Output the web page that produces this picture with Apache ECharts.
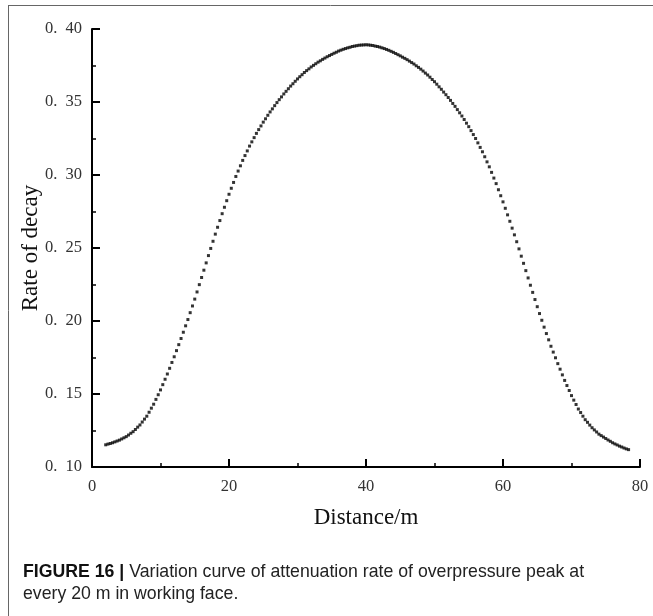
<!DOCTYPE html>
<html>
<head>
<meta charset="utf-8">
<script src="https://cdn.jsdelivr.net/npm/echarts@6/dist/echarts.min.js"></script>
<style>
html,body{margin:0;padding:0;background:#fff;}
#chart{width:653px;height:616px;}
</style>
</head>
<body>
<div id="chart"></div>
<script>
// Distance (m), sampled every 1/3 m
const distance = [
  2, 2.333, 2.667, 3, 3.333, 3.667, 4, 4.333, 4.667, 5, 5.333, 5.667,
  6, 6.333, 6.667, 7, 7.333, 7.667, 8, 8.333, 8.667, 9, 9.333, 9.667,
  10, 10.333, 10.667, 11, 11.333, 11.667, 12, 12.333, 12.667, 13, 13.333, 13.667,
  14, 14.333, 14.667, 15, 15.333, 15.667, 16, 16.333, 16.667, 17, 17.333, 17.667,
  18, 18.333, 18.667, 19, 19.333, 19.667, 20, 20.333, 20.667, 21, 21.333, 21.667,
  22, 22.333, 22.667, 23, 23.333, 23.667, 24, 24.333, 24.667, 25, 25.333, 25.667,
  26, 26.333, 26.667, 27, 27.333, 27.667, 28, 28.333, 28.667, 29, 29.333, 29.667,
  30, 30.333, 30.667, 31, 31.333, 31.667, 32, 32.333, 32.667, 33, 33.333, 33.667,
  34, 34.333, 34.667, 35, 35.333, 35.667, 36, 36.333, 36.667, 37, 37.333, 37.667,
  38, 38.333, 38.667, 39, 39.333, 39.667, 40, 40.333, 40.667, 41, 41.333, 41.667,
  42, 42.333, 42.667, 43, 43.333, 43.667, 44, 44.333, 44.667, 45, 45.333, 45.667,
  46, 46.333, 46.667, 47, 47.333, 47.667, 48, 48.333, 48.667, 49, 49.333, 49.667,
  50, 50.333, 50.667, 51, 51.333, 51.667, 52, 52.333, 52.667, 53, 53.333, 53.667,
  54, 54.333, 54.667, 55, 55.333, 55.667, 56, 56.333, 56.667, 57, 57.333, 57.667,
  58, 58.333, 58.667, 59, 59.333, 59.667, 60, 60.333, 60.667, 61, 61.333, 61.667,
  62, 62.333, 62.667, 63, 63.333, 63.667, 64, 64.333, 64.667, 65, 65.333, 65.667,
  66, 66.333, 66.667, 67, 67.333, 67.667, 68, 68.333, 68.667, 69, 69.333, 69.667,
  70, 70.333, 70.667, 71, 71.333, 71.667, 72, 72.333, 72.667, 73, 73.333, 73.667,
  74, 74.333, 74.667, 75, 75.333, 75.667, 76, 76.333, 76.667, 77, 77.333, 77.667,
  78, 78.333
];

// Rate of decay
const rateOfDecay = [
  0.1152, 0.1157, 0.1161, 0.1166, 0.1172, 0.1178, 0.1184, 0.1192, 0.1200, 0.1208, 0.1219, 0.1231,
  0.1242, 0.1257, 0.1273, 0.1288, 0.1308, 0.1328, 0.1348, 0.1375, 0.1403, 0.1430, 0.1463, 0.1495,
  0.1528, 0.1564, 0.1601, 0.1637, 0.1676, 0.1716, 0.1755, 0.1797, 0.1838, 0.1880, 0.1923, 0.1967,
  0.2010, 0.2057, 0.2103, 0.2150, 0.2199, 0.2249, 0.2298, 0.2348, 0.2398, 0.2448, 0.2497, 0.2546,
  0.2595, 0.2642, 0.2688, 0.2735, 0.2779, 0.2824, 0.2868, 0.2909, 0.2949, 0.2990, 0.3027, 0.3063,
  0.3100, 0.3133, 0.3165, 0.3198, 0.3227, 0.3256, 0.3285, 0.3311, 0.3336, 0.3362, 0.3385, 0.3409,
  0.3432, 0.3453, 0.3475, 0.3496, 0.3516, 0.3535, 0.3555, 0.3573, 0.3591, 0.3609, 0.3625, 0.3642,
  0.3658, 0.3673, 0.3687, 0.3702, 0.3715, 0.3727, 0.3740, 0.3751, 0.3762, 0.3773, 0.3782, 0.3792,
  0.3801, 0.3810, 0.3818, 0.3826, 0.3834, 0.3841, 0.3849, 0.3855, 0.3861, 0.3866, 0.3871, 0.3875,
  0.3880, 0.3883, 0.3886, 0.3889, 0.3890, 0.3891, 0.3892, 0.3891, 0.3889, 0.3887, 0.3883, 0.3880,
  0.3876, 0.3871, 0.3866, 0.3860, 0.3854, 0.3847, 0.3840, 0.3832, 0.3824, 0.3816, 0.3807, 0.3799,
  0.3790, 0.3780, 0.3770, 0.3760, 0.3748, 0.3737, 0.3725, 0.3712, 0.3698, 0.3685, 0.3670, 0.3654,
  0.3639, 0.3622, 0.3604, 0.3587, 0.3568, 0.3550, 0.3531, 0.3511, 0.3490, 0.3470, 0.3448, 0.3426,
  0.3404, 0.3380, 0.3355, 0.3331, 0.3304, 0.3277, 0.3250, 0.3220, 0.3189, 0.3159, 0.3125, 0.3090,
  0.3056, 0.3018, 0.2979, 0.2941, 0.2899, 0.2858, 0.2816, 0.2772, 0.2727, 0.2683, 0.2636, 0.2590,
  0.2543, 0.2494, 0.2444, 0.2395, 0.2345, 0.2295, 0.2245, 0.2196, 0.2147, 0.2098, 0.2051, 0.2005,
  0.1958, 0.1914, 0.1871, 0.1827, 0.1787, 0.1748, 0.1708, 0.1670, 0.1631, 0.1593, 0.1558, 0.1524,
  0.1489, 0.1458, 0.1428, 0.1397, 0.1373, 0.1348, 0.1324, 0.1306, 0.1287, 0.1269, 0.1254, 0.1240,
  0.1225, 0.1215, 0.1205, 0.1195, 0.1185, 0.1176, 0.1166, 0.1158, 0.1151, 0.1143, 0.1137, 0.1130,
  0.1124, 0.1119
];

const xTicks = { min: 0, max: 80, interval: 20 };
const yTicks = { min: 0.10, max: 0.40, interval: 0.05 };
const xAxisTitle = 'Distance/m';
const yAxisTitle = 'Rate of decay';
const captionBold = 'FIGURE 16 | ';
const captionLine1 = 'Variation curve of attenuation rate of overpressure peak at';
const captionLine2 = 'every 20 m in working face.';

const points = distance.map((d, i) => [d, rateOfDecay[i]]);
const serif = '"Liberation Serif", "Times New Roman", "DejaVu Serif", serif';
const sans = '"Liberation Sans", Arial, "DejaVu Sans", sans-serif';

const axisCommon = {
  axisLine: { show: true, onZero: false, lineStyle: { color: '#000', width: 2 } },
  axisTick: { show: true, inside: true, length: 8, lineStyle: { color: '#000', width: 2 } },
  minorTick: { show: true, splitNumber: 2, length: 4, lineStyle: { color: '#000', width: 1.5 } },
  splitLine: { show: false },
  minorSplitLine: { show: false }
};

const chart = echarts.init(document.getElementById('chart'), null, { renderer: 'canvas' });
chart.setOption({
  animation: false,
  backgroundColor: '#fff',
  grid: { left: 92, right: 13, top: 29, bottom: 149, containLabel: false },
  xAxis: Object.assign({
    type: 'value',
    min: xTicks.min, max: xTicks.max, interval: xTicks.interval,
    name: xAxisTitle,
    nameLocation: 'middle',
    nameGap: 39,
    nameMoveOverlap: false,
    nameTextStyle: { fontFamily: serif, fontSize: 23, color: '#111' },
    axisLabel: { fontFamily: serif, fontSize: 16.5, color: '#333', margin: 11 }
  }, axisCommon),
  yAxis: Object.assign({
    type: 'value',
    min: yTicks.min, max: yTicks.max, interval: yTicks.interval,
    name: yAxisTitle,
    nameLocation: 'middle',
    nameGap: 50,
    nameMoveOverlap: false,
    nameRotate: 90,
    nameTextStyle: { fontFamily: serif, fontSize: 23, color: '#111' },
    axisLabel: {
      fontFamily: serif, fontSize: 16.5, color: '#333', margin: 10,
      formatter: v => v.toFixed(2).replace('.', '.  ')
    }
  }, axisCommon),
  series: [{
    type: 'scatter',
    data: points,
    symbol: 'rect',
    symbolSize: 3,
    itemStyle: { color: '#000' },
    silent: true
  }],
  graphic: [
    { type: 'line', shape: { x1: 8, y1: 5.5, x2: 653, y2: 5.5 }, style: { stroke: '#666', lineWidth: 1 } },
    { type: 'line', shape: { x1: 8.5, y1: 5, x2: 8.5, y2: 616 }, style: { stroke: '#666', lineWidth: 1 } },
    {
      type: 'text', left: 23, top: 563,
      style: {
        text: '{b|' + captionBold + '}{r|' + captionLine1 + '}',
        rich: {
          b: { fontFamily: sans, fontSize: 17.7, fontWeight: 'bold', fill: '#111' },
          r: { fontFamily: sans, fontSize: 17.7, fill: '#222' }
        }
      }
    },
    {
      type: 'text', left: 23, top: 585,
      style: { text: captionLine2, fontFamily: sans, fontSize: 17.7, fill: '#222' }
    }
  ]
});
</script>
</body>
</html>
